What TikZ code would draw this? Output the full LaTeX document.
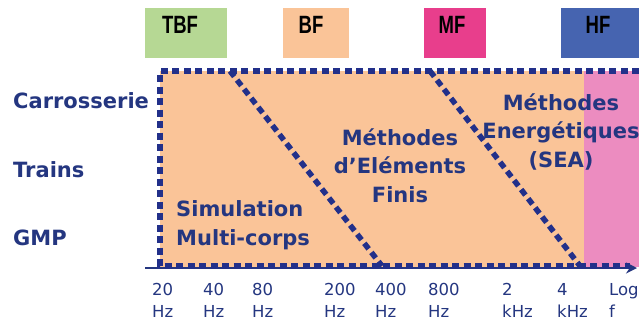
\documentclass[tikz,border=0pt]{standalone}
\usepackage{fontspec}
\setmainfont{DejaVu Sans}
\newfontfamily\bandfont[FakeStretch=0.74]{Liberation Sans}
\usetikzlibrary{arrows.meta}
\definecolor{navy}{RGB}{36,54,128}
\definecolor{dotblue}{RGB}{34,48,138}
\definecolor{tbfgreen}{RGB}{182,216,148}
\definecolor{bforange}{RGB}{250,196,152}
\definecolor{mfpink}{RGB}{232,62,140}
\definecolor{hfblue}{RGB}{70,100,176}
\definecolor{zonepink}{RGB}{236,140,192}

\begin{document}
\begin{tikzpicture}[x=1pt,y=-1pt,
    band/.style={font=\bandfont\bfseries\fontsize{25}{25}\selectfont,text=black,inner sep=0pt,anchor=base},
    part/.style={font=\bfseries\fontsize{21}{28.5}\selectfont,text=navy,inner sep=0pt},
    freq/.style={font=\fontsize{16.5}{22}\selectfont,text=navy,align=left,inner sep=0pt,anchor=base west},
    frontier/.style={dotblue,line width=5.5pt,dash pattern=on 7pt off 4.5pt}]
    \useasboundingbox (0,0) rectangle (639,322);
    % bandes de frequence
    \fill[tbfgreen] (145,8) rectangle (227,58);
    \fill[bforange] (283,8) rectangle (349,58);
    \fill[mfpink] (424,8) rectangle (486,58);
    \fill[hfblue] (561,8) rectangle (639,58);
    \node[band] (tbf) at (180,33){TBF};
    \node[band] (bf) at (311,33){BF};
    \node[band] (mf) at (452,33){MF};
    \node[band] (hf) at (598,33){HF};
    % zones
    \fill[bforange] (160,71) rectangle (584,267);
    \fill[zonepink] (584,71) rectangle (639,267);
    \coordinate (tl) at (160,71);
    \coordinate (tr) at (639,71);
    \coordinate (bl) at (160,266);
    \coordinate (br) at (630,266);
    \coordinate (axL) at (145,268);
    \coordinate (axR) at (637,268);
    \draw[navy,line width=2.5pt,-{Stealth[length=11pt,width=11pt]}] (axL)--(axR);
    \draw[frontier] (tr)--(tl)--(bl)--(br);
    \draw[frontier] (230,71)--(382,266);
    \draw[frontier] (430,71)--(580,266);
    % sous-systemes
    \node[part,anchor=base west] (carr) at (13,108){Carrosserie};
    \node[part,anchor=base west] (trains) at (13,177){Trains};
    \node[part,anchor=base west] (gmp) at (13,245){GMP};
    % methodes (base = derniere ligne)
    \node[part,align=left,anchor=base west] (mbs) at (176,245){Simulation\\Multi-corps};
    \node[part,align=center,anchor=base] (mef) at (400,202){Méthodes\\d’Eléments\\Finis};
    \node[part,align=center,anchor=base] (sea) at (561,167){Méthodes\\Energétiques\\(SEA)};
    % axe des frequences
    \node[freq] (f20) at (152,317){20\\Hz};
    \node[freq] (f40) at (203,317){40\\Hz};
    \node[freq] (f80) at (252,317){80\\Hz};
    \node[freq] (f200) at (324,317){200\\Hz};
    \node[freq] (f400) at (375,317){400\\Hz};
    \node[freq] (f800) at (428,317){800\\Hz};
    \node[freq] (f2k) at (502,317){2\\kHz};
    \node[freq] (f4k) at (557,317){4\\kHz};
    \node[freq] (logf) at (609,317){Log\\f};
  \end{tikzpicture}
\end{document}
